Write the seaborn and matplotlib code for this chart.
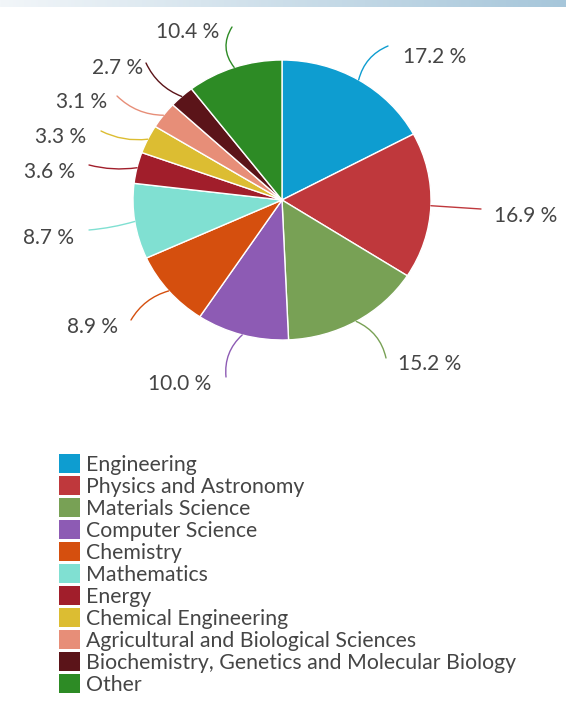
import numpy as np
import matplotlib
matplotlib.use("Agg")
import matplotlib.pyplot as plt
import matplotlib.patches as mpatches
from matplotlib.colors import LinearSegmentedColormap
import seaborn as sns

sns.set_theme(style="white")
plt.rcParams['font.family'] = ['Lato', 'DejaVu Sans']

# ---- data ----
categories = ["Engineering", "Physics and Astronomy", "Materials Science",
              "Computer Science", "Chemistry", "Mathematics", "Energy",
              "Chemical Engineering", "Agricultural and Biological Sciences",
              "Biochemistry, Genetics and Molecular Biology", "Other"]
shares = [17.2, 16.9, 15.2, 10.0, 8.9, 8.7, 3.6, 3.3, 3.1, 2.7, 10.4]
colors = ["#0E9DD0", "#BF383C", "#78A155", "#8D5BB4", "#D54F0E", "#80E0D2",
          "#A11E2B", "#DCBD32", "#E78E78", "#5B1419", "#2D8B25"]

# ---- layout (pixels) ----
W, H = 566, 704
cx, cy = 282, 200          # pie centre (from top)
rx, ry = 149, 140          # horizontal / vertical radius in px
label_text = [(403, 57), (494, 216), (398, 364), (211, 384), (118, 327),
              (74, 238), (75, 172), (86, 137), (107, 102), (143, 68), (219, 32)]
line_end = [(388, 46), (481, 209), (386, 358), (226, 377), (131, 320),
            (89, 230), (89, 165), (101, 131), (117, 96), (146, 63), (232, 27)]
ha_list = ["left", "left", "left", "right", "right", "right", "right",
           "right", "right", "right", "right"]
rads = [0.25, 0.0, 0.25, -0.25, -0.2, 0.05, 0.1, 0.15, 0.2, 0.2, 0.35]

fig = plt.figure(figsize=(W / 100, H / 100), dpi=100)
fig.patch.set_facecolor("white")

ax = fig.add_axes([0, 0, 1, 1])
ax.pie(shares, colors=colors, startangle=90, counterclock=False,
       radius=1, center=(0, 0),
       wedgeprops=dict(edgecolor="white", linewidth=1.0))
ax.set_aspect("auto")
ax.set_xlim(-cx / rx, (W - cx) / rx)
ax.set_ylim(-(H - cy) / ry, cy / ry)
ax.axis("off")


def px(x, y):
    return ((x - cx) / rx, (cy - y) / ry)


total = sum(shares)
cum = 0.0
for i, v in enumerate(shares):
    mid = 90 - (cum + v / 2) / total * 360
    cum += v
    a = np.deg2rad(mid)
    start = (np.cos(a), np.sin(a))
    ax.annotate("", xy=start, xytext=px(*line_end[i]),
                arrowprops=dict(arrowstyle="-", color=colors[i], lw=1.0,
                                shrinkA=0, shrinkB=0,
                                connectionstyle=f"arc3,rad={rads[i]}"))
    ax.text(*px(*label_text[i]), f"{v:.1f} %", ha=ha_list[i], va="center",
            fontsize=15, color="#454545")

# top gradient band
band = fig.add_axes([0, 1 - 7 / H, 1, 7 / H])
cmap = LinearSegmentedColormap.from_list("band", ["#f2f6f9", "#a6c6da"])
band.imshow(np.linspace(0, 1, 256)[None, :], aspect="auto", cmap=cmap)
band.axis("off")

handles = [mpatches.Patch(facecolor=c, edgecolor="none", label=l)
           for c, l in zip(colors, categories)]
fs = 15.3
fpx = fs * 100 / 72
fig.legend(handles=handles, loc="upper left",
           bbox_to_anchor=(59 / W, 1 - 454 / H), frameon=False,
           fontsize=fs, handlelength=21 / fpx, handleheight=21 / fpx,
           handletextpad=0.3, labelspacing=0.06, borderpad=0,
           borderaxespad=0, labelcolor="#454545")

fig.savefig("out.png", dpi=100, facecolor="white")
